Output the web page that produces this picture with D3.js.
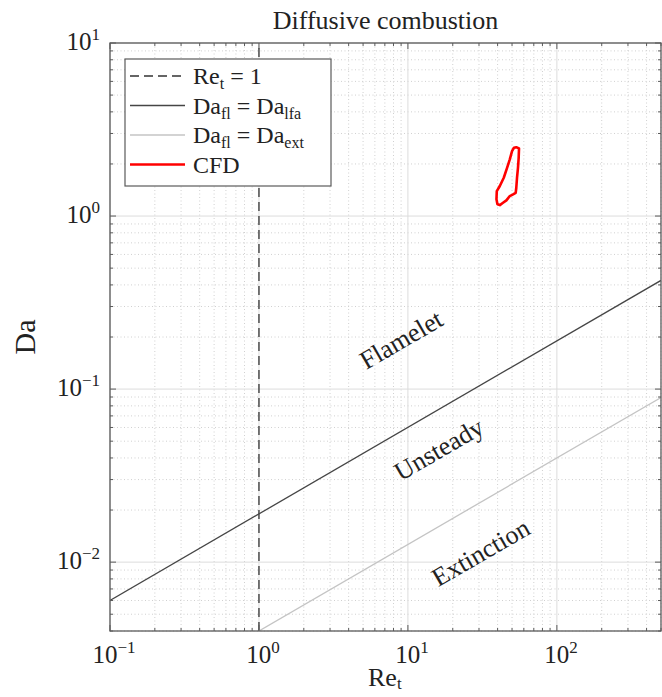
<!DOCTYPE html>
<html>
<head>
<meta charset="utf-8">
<script src="https://cdn.jsdelivr.net/npm/d3@7"></script>
<style>
  body { margin: 0; background: #fff; }
</style>
</head>
<body>
<svg id="chart" width="662" height="697" font-family="Liberation Serif, Times New Roman, DejaVu Serif, serif" fill="#222"></svg>
<script>
// axis ranges and ticks
var reDomain = [0.1, 500]
var daDomain = [0.004, 10]
var xTickVals = [0.1, 1, 10, 100]
var yTickVals = [0.01, 0.1, 1, 10]

// regime boundaries: Da = coef * Re^0.5
var boundaryRe = [0.1, 500]
var lfaCoef = 0.019
var extCoef = 0.004
var boundaryExp = 0.5
var reUnity = 1

// CFD contour
var cfdRe = [53.4, 55.7, 55.4, 54.8, 54.0, 53.4, 52.9, 50.8, 48.3, 45.8, 43.5, 41.4, 39.9, 39.3, 39.5, 41.4, 44.0, 46.3, 48.3, 50.0, 51.5, 53.4]
var cfdDa = [2.50, 2.46, 2.17, 1.90, 1.665, 1.457, 1.363, 1.335, 1.305, 1.232, 1.193, 1.157, 1.169, 1.249, 1.394, 1.491, 1.665, 1.90, 2.127, 2.375, 2.481, 2.50]

// regime labels
var regionNames = ['Flamelet', 'Unsteady', 'Extinction']
var regionRe = [9.2, 16.5, 31.5]
var regionDa = [0.187, 0.0435, 0.011]

var margin = {left: 110, right: 1, top: 43, bottom: 66}
var svgWidth = 662
var svgHeight = 697
var chartWidth = svgWidth - margin.left - margin.right
var chartHeight = svgHeight - margin.top - margin.bottom

var svg = d3.select('#chart')

var xScale = d3.scaleLog().domain(reDomain).range([0, chartWidth])
var yScale = d3.scaleLog().domain(daDomain).range([chartHeight, 0])

svg.append('defs').append('clipPath').attr('id', 'plotClip')
  .append('rect').attr('width', chartWidth).attr('height', chartHeight)

var chart = svg.append('g')
  .attr('transform', 'translate(' + margin.left + ',' + margin.top + ')')

function isMajor (v) {
  var l = Math.log10(v)
  return Math.abs(l - Math.round(l)) < 1e-9
}

var xAll = xScale.ticks()
var yAll = yScale.ticks()

// minor grid
var grid = chart.append('g')
grid.selectAll('.xminor').data(xAll.filter(function (d) { return !isMajor(d) }))
  .enter().append('line')
  .attr('x1', function (d) { return xScale(d) }).attr('x2', function (d) { return xScale(d) })
  .attr('y1', 0).attr('y2', chartHeight)
  .attr('stroke', '#d0d0d0').attr('stroke-width', 1).attr('stroke-dasharray', '1,2.5')
grid.selectAll('.yminor').data(yAll.filter(function (d) { return !isMajor(d) }))
  .enter().append('line')
  .attr('y1', function (d) { return yScale(d) }).attr('y2', function (d) { return yScale(d) })
  .attr('x1', 0).attr('x2', chartWidth)
  .attr('stroke', '#d0d0d0').attr('stroke-width', 1).attr('stroke-dasharray', '1,2.5')
// major grid
grid.selectAll('.xmajor').data(xTickVals)
  .enter().append('line')
  .attr('x1', function (d) { return xScale(d) }).attr('x2', function (d) { return xScale(d) })
  .attr('y1', 0).attr('y2', chartHeight)
  .attr('stroke', '#dcdcdc').attr('stroke-width', 1)
grid.selectAll('.ymajor').data(yTickVals)
  .enter().append('line')
  .attr('y1', function (d) { return yScale(d) }).attr('y2', function (d) { return yScale(d) })
  .attr('x1', 0).attr('x2', chartWidth)
  .attr('stroke', '#dcdcdc').attr('stroke-width', 1)

// data lines
var plot = chart.append('g').attr('clip-path', 'url(#plotClip)')
var line = d3.line().x(function (d) { return xScale(d[0]) }).y(function (d) { return yScale(d[1]) })

plot.append('line')
  .attr('x1', xScale(reUnity)).attr('x2', xScale(reUnity))
  .attr('y1', yScale(daDomain[0])).attr('y2', yScale(daDomain[1]))
  .attr('stroke', '#333').attr('stroke-width', 1.3).attr('stroke-dasharray', '9,5')

plot.append('path')
  .datum(boundaryRe.map(function (r) { return [r, lfaCoef * Math.pow(r, boundaryExp)] }))
  .attr('d', line).attr('fill', 'none').attr('stroke', '#454545').attr('stroke-width', 1.3)

plot.append('path')
  .datum(boundaryRe.map(function (r) { return [r, extCoef * Math.pow(r, boundaryExp)] }))
  .attr('d', line).attr('fill', 'none').attr('stroke', '#c4c4c4').attr('stroke-width', 1.3)

plot.append('path')
  .datum(cfdRe.map(function (r, i) { return [r, cfdDa[i]] }))
  .attr('d', line.curve(d3.curveLinearClosed)).attr('fill', 'none')
  .attr('stroke', '#ff0000').attr('stroke-width', 2.6).attr('stroke-linejoin', 'round')

// regime labels, rotated along boundary slope
var angle = -Math.atan(boundaryExp * (yScale(1) - yScale(10)) / (xScale(10) - xScale(1))) * 180 / Math.PI
chart.selectAll('.region').data(regionNames)
  .enter().append('text')
  .attr('text-anchor', 'middle')
  .attr('dominant-baseline', 'middle')
  .attr('font-size', 26)
  .attr('transform', function (d, i) {
    return 'translate(' + xScale(regionRe[i]) + ',' + yScale(regionDa[i]) + ') rotate(' + angle + ')'
  })
  .text(function (d) { return d })

// box and ticks
var axisColor = '#5a5a5a'
chart.append('rect').attr('width', chartWidth).attr('height', chartHeight)
  .attr('fill', 'none').attr('stroke', axisColor).attr('stroke-width', 1.3)

var ticks = chart.append('g').attr('stroke', axisColor).attr('stroke-width', 1)
xAll.forEach(function (d) {
  var len = isMajor(d) ? 6 : 3
  var px = xScale(d)
  ticks.append('line').attr('x1', px).attr('x2', px).attr('y1', chartHeight).attr('y2', chartHeight - len)
  ticks.append('line').attr('x1', px).attr('x2', px).attr('y1', 0).attr('y2', len)
})
yAll.forEach(function (d) {
  var len = isMajor(d) ? 6 : 3
  var py = yScale(d)
  ticks.append('line').attr('y1', py).attr('y2', py).attr('x1', 0).attr('x2', len)
  ticks.append('line').attr('y1', py).attr('y2', py).attr('x1', chartWidth).attr('x2', chartWidth - len)
})

// tick labels 10^k
function powerLabel (sel, v) {
  sel.append('tspan').text('10')
  sel.append('tspan').attr('dy', -10).attr('font-size', 17).text(String(Math.round(Math.log10(v))).replace('-', '\u2212'))
}
xTickVals.forEach(function (v) {
  var t = chart.append('text')
    .attr('x', xScale(v) + 4).attr('y', chartHeight + 32)
    .attr('text-anchor', 'middle').attr('font-size', 25)
  powerLabel(t, v)
})
yTickVals.forEach(function (v) {
  var t = chart.append('text')
    .attr('x', -10).attr('y', yScale(v) + 7)
    .attr('text-anchor', 'end').attr('font-size', 25)
  powerLabel(t, v)
})

// axis titles
var xl = svg.append('text').attr('x', 368).attr('y', 686)
  .attr('font-size', 26)
xl.append('tspan').text('Re')
xl.append('tspan').attr('dy', 3).attr('font-size', 17).text('t')

svg.append('text').attr('transform', 'translate(35,337) rotate(-90)')
  .attr('text-anchor', 'middle').attr('font-size', 30).text('Da')

svg.append('text').attr('x', margin.left + chartWidth / 2).attr('y', 29)
  .attr('text-anchor', 'middle').attr('font-size', 26).text('Diffusive combustion')

// legend
var legendRows = [
  {main: 'Re', sub: 't', rest: ' = 1', sub2: '', color: '#333', width: 1.3, dash: '9,5'},
  {main: 'Da', sub: 'fl', rest: ' = Da', sub2: 'lfa', color: '#454545', width: 1.3, dash: null},
  {main: 'Da', sub: 'fl', rest: ' = Da', sub2: 'ext', color: '#c4c4c4', width: 1.3, dash: null},
  {main: 'CFD', sub: '', rest: '', sub2: '', color: '#ff0000', width: 2.6, dash: null}
]
var legend = svg.append('g').attr('transform', 'translate(125,59)')
legend.append('rect').attr('width', 206).attr('height', 127)
  .attr('fill', '#fff').attr('stroke', axisColor).attr('stroke-width', 1.2)
legendRows.forEach(function (r, i) {
  var cy = 17 + i * 29.5
  legend.append('line').attr('x1', 5).attr('x2', 60).attr('y1', cy).attr('y2', cy)
    .attr('stroke', r.color).attr('stroke-width', r.width).attr('stroke-dasharray', r.dash)
  var t = legend.append('text').attr('x', 68).attr('y', cy + 8).attr('font-size', 24)
  t.append('tspan').text(r.main)
  if (r.sub) t.append('tspan').attr('dy', 5).attr('font-size', 16).text(r.sub)
  if (r.rest) t.append('tspan').attr('dy', r.sub ? -5 : 0).text(r.rest)
  if (r.sub2) t.append('tspan').attr('dy', 5).attr('font-size', 16).text(r.sub2)
})
</script>
</body>
</html>
